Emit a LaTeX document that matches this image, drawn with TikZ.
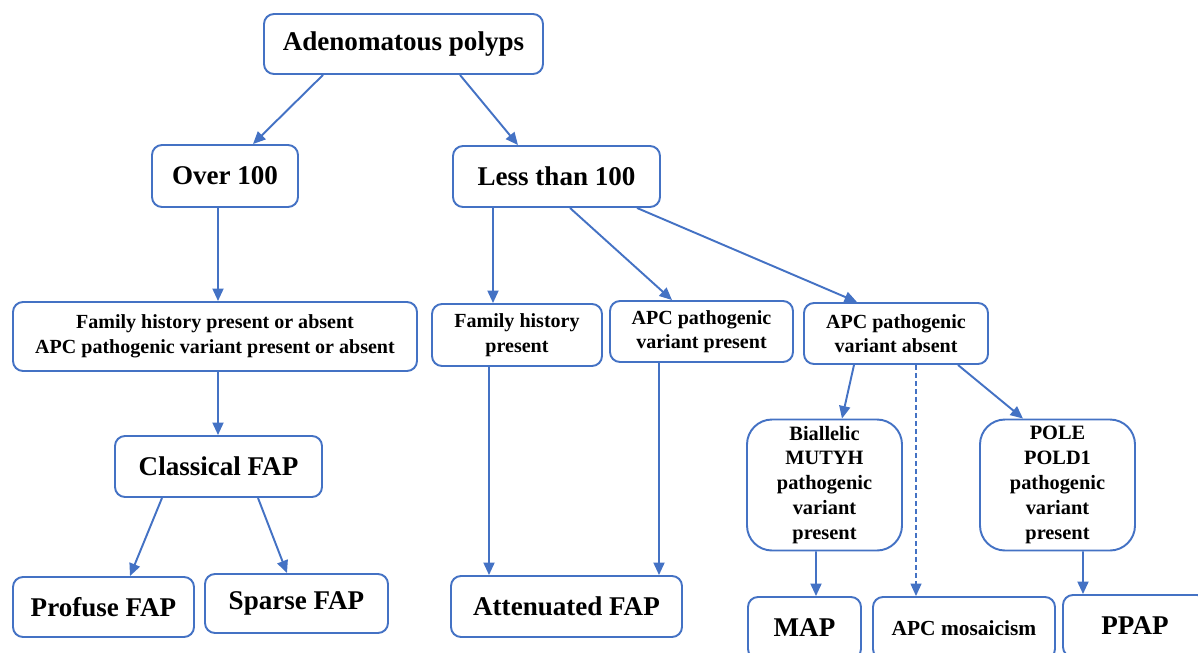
\documentclass[tikz,border=0pt]{standalone}
\usepackage{fontspec}
\setmainfont{Liberation Serif}
\usetikzlibrary{arrows.meta,calc}
\definecolor{fapblue}{RGB}{68,114,196}

\begin{document}
\begin{tikzpicture}[x=0.02cm, y=-0.02cm,
    box/.style={draw=fapblue, line width=1.1pt, rounded corners=0.2cm, align=center, inner sep=0pt, font=\bfseries\fontsize{11.4}{14}\selectfont},
    bigbox/.style={box, font=\bfseries\fontsize{15.4}{18}\selectfont},
    sz/.style 2 args={minimum width=#1*0.02cm, minimum height=#2*0.02cm},
    arr/.style={-{Triangle[length=0.25cm, width=0.22cm]}, draw=fapblue, line width=1.1pt}]
    \useasboundingbox (0,0) rectangle (1198,653);
    \clip (0,0) rectangle (1198,653);

    \node[bigbox, sz={279}{60}] (ad) at (403.5, 44) {Adenomatous polyps};
    \node[bigbox, sz={146}{62}] (over) at (225, 176) {Over 100};
    \node[bigbox, sz={207}{61}] (less) at (556.5, 176.5) {Less than 100};
    \node[box, sz={404}{69}] (famboth) at (215, 336.5) {Family history present or absent\\APC pathogenic variant present or absent};
    \node[box, sz={170}{62}] (fam) at (517, 335) {Family history\\present};
    \node[box, sz={183}{61}] (apcyes) at (701.5, 331.5) {APC pathogenic\\variant present};
    \node[box, sz={184}{61}] (apcno) at (896, 333.5) {APC pathogenic\\variant absent};
    \node[bigbox, sz={207}{61}] (classical) at (218.5, 466.5) {Classical FAP};
    \node[box, sz={155}{131}, rounded corners=0.5cm, font=\bfseries\fontsize{11.6}{14.2}\selectfont] (mutyh) at (824.5, 485) {Biallelic\\MUTYH\\pathogenic\\variant\\present};
    \node[box, sz={155}{131}, rounded corners=0.5cm, font=\bfseries\fontsize{11.6}{14.2}\selectfont] (pole) at (1057.5, 485) {POLE\\POLD1\\pathogenic\\variant\\present};
    \node[bigbox, sz={181}{60}] (profuse) at (103.5, 607) {Profuse FAP};
    \node[bigbox, sz={183}{59}] (sparse) at (296.5, 603.5) {Sparse FAP};
    \node[bigbox, sz={231}{61}] (atten) at (566.5, 606.5) {Attenuated FAP};
    \node[bigbox, sz={113}{62}] (map) at (804.5, 628) {MAP};
    \node[box, sz={182}{62}, font=\bfseries\fontsize{12.2}{14}\selectfont] (mosaic) at (964, 628) {APC mosaicism};
    \node[bigbox, sz={144}{62}] (ppap) at (1135, 626) {PPAP};

    \draw[arr] ($(ad.south)+(-80.5,0)$) -- ($(over.north)+(28,0)$);
    \draw[arr] ($(ad.south)+(56.5,0)$) -- ($(less.north)+(-38.5,0)$);
    \draw[arr] ($(over.south)+(-7,0)$) -- ($(famboth.north)+(3,0)$);
    \draw[arr] ($(less.south)+(-63.5,0)$) -- ($(fam.north)+(-24,0)$);
    \draw[arr] ($(less.south)+(13.5,0)$) -- ($(apcyes.north)+(-29.5,0)$);
    \draw[arr] ($(less.south)+(80.5,0)$) -- ($(apcno.north)+(-39,0)$);
    \draw[arr] ($(famboth.south)+(3,0)$) -- ($(classical.north)+(-0.5,0)$);
    \draw[arr] ($(classical.south)+(-56.5,0)$) -- ($(profuse.north)+(26.5,0)$);
    \draw[arr] ($(classical.south)+(39.5,0)$) -- ($(sparse.north)+(-9.5,0)$);
    \draw[arr] ($(fam.south)+(-28,0)$) -- ($(atten.north)+(-77.5,0)$);
    \draw[arr] ($(apcyes.south)+(-42.5,0)$) -- ($(atten.north)+(92.5,0)$);
    \draw[arr] ($(apcno.south)+(-42,0)$) -- ($(mutyh.north)+(17.5,0)$);
    \draw[arr, line width=0.8pt, dash pattern=on 0.1cm off 0.06cm] ($(apcno.south)+(20,0)$) -- ($(mosaic.north)+(-48,0)$);
    \draw[arr] ($(apcno.south)+(62,0)$) -- ($(pole.north)+(-34.5,0)$);
    \draw[arr] ($(mutyh.south)+(-8.5,0)$) -- ($(map.north)+(11.5,0)$);
    \draw[arr] ($(pole.south)+(25.5,0)$) -- ($(ppap.north)+(-52,0)$);
  \end{tikzpicture}
\end{document}
